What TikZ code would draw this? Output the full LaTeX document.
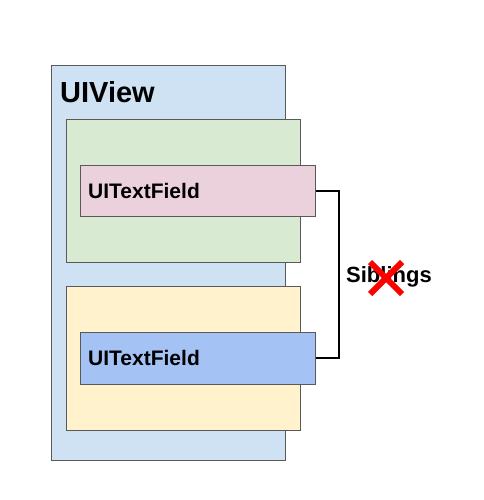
\documentclass[tikz,border=0pt]{standalone}
\usepackage{fontspec}
\setmainfont{Liberation Sans}
\usetikzlibrary{positioning}

\definecolor{viewblue}{HTML}{CFE2F3}
\definecolor{boxgreen}{HTML}{D9EAD3}
\definecolor{boxyellow}{HTML}{FFF2CC}
\definecolor{fieldpink}{HTML}{EAD1DC}
\definecolor{fieldblue}{HTML}{A4C2F4}
\definecolor{edgegray}{HTML}{595959}

\begin{document}
\begin{tikzpicture}[x=1pt, y=-1pt,
	box/.style={draw=edgegray, line width=0.8pt, inner sep=0, anchor=north west},
	label/.style={font=\bfseries, inner sep=0, anchor=west}]
	\useasboundingbox (0,0) rectangle (483,500);
	% outer view and the two containers
	\node[box, fill=viewblue, minimum width=234, minimum height=395] (view) at (51,65) {};
	\node[label, font=\bfseries\fontsize{29}{29}\selectfont, anchor=north west] (viewlbl) at (60,81) {UIView};
	\node[box, fill=boxgreen, minimum width=234, minimum height=143] (top) at (66,119) {};
	\node[box, fill=boxyellow, minimum width=234, minimum height=144] (bottom) at (66,286) {};
	% text fields
	\node[box, fill=fieldpink, minimum width=235, minimum height=51] (field1) at (80,165) {};
	\node[label, font=\bfseries\fontsize{21}{21}\selectfont, right=8pt of field1.west] (field1lbl) {UITextField};
	\node[box, fill=fieldblue, minimum width=235, minimum height=52] (field2) at (80,332) {};
	\node[label, font=\bfseries\fontsize{21}{21}\selectfont, right=8pt of field2.west] (field2lbl) {UITextField};
	% bracket between siblings
	\draw[line width=2pt] (field1.east) -- ([xshift=23pt]field1.east) |- (field2.east);
	\node[label, font=\bfseries\fontsize{22}{22}\selectfont] (sib) at (346,277) {Siblings};
	\draw[red, line width=6pt] (370,262) -- (402,294) (370,294) -- (402,262);
\end{tikzpicture}
\end{document}
